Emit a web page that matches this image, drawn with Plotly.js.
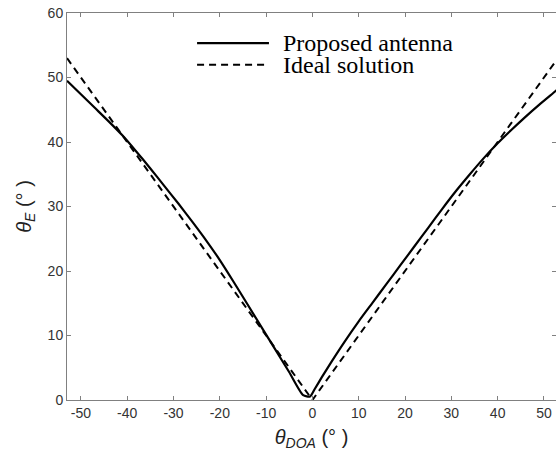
<!DOCTYPE html>
<html>
<head>
<meta charset="utf-8">
<script src="https://cdn.plot.ly/plotly-3.0.1.min.js"></script>
<style>html,body{margin:0;padding:0;background:#fff;}#chart{width:556px;height:463px;}</style>
</head>
<body>
<div id="chart"></div>
<script>
// Proposed antenna
const proposedX = [-53,-50,-47,-44,-41,-38,-35,-32,-29,-26,-23,-20,-17,-14,-11,-8,-5,-2,-0.5,0.5,2,4,7,10,13,16,19,22,25,28,31,34,37,40,43,46,49,52,53];
const proposedY = [49.5,47.4,45.3,43.2,41.0,38.5,35.9,33.2,30.5,27.7,24.8,21.7,18.3,14.8,11.3,7.8,4.3,0.75,0.55,1.7,3.5,5.8,9.1,12.2,15.1,18.0,20.9,23.8,26.7,29.6,32.4,35.0,37.5,39.8,41.9,43.9,45.8,47.6,48.2];
// Ideal solution
const idealX = [-53,0,53];
const idealY = [53,0,53];
// ticks
const xTickVals = [-50,-40,-30,-20,-10,0,10,20,30,40,50];
const xTickText = ["-50","-40","-30","-20","-10","0","10","20","30","40","50"];
const yTickVals = [0,10,20,30,40,50,60];
const seriesNames = ["Proposed antenna","Ideal solution"];

const traces = [
  {x: proposedX, y: proposedY, mode: 'lines', name: seriesNames[0], line: {color: '#000', width: 2.2, shape: 'spline', smoothing: 0.6}, showlegend: false},
  {x: idealX, y: idealY, mode: 'lines', name: seriesNames[1], line: {color: '#000', width: 2, dash: '7px,5px'}, showlegend: false}
];

const axisCommon = {
  showgrid: false, zeroline: false, showline: true, linecolor: '#808080', linewidth: 1,
  ticks: 'inside', ticklen: 4, tickcolor: '#808080', mirror: 'ticks',
  tickfont: {family: 'Liberation Sans, Arial, sans-serif', size: 14, color: '#333'}
};

const layout = {
  width: 556, height: 463,
  margin: {l: 67, r: 0, t: 13, b: 63},
  paper_bgcolor: '#fff', plot_bgcolor: '#fff',
  showlegend: false,
  xaxis: Object.assign({}, axisCommon, {
    range: [-53, 52.6], tickmode: 'array', tickvals: xTickVals, ticktext: xTickText,
    title: {text: '<i>θ</i><sub><i>DOA</i></sub> (° )', font: {family: 'Liberation Sans, Arial, sans-serif', size: 20, color: '#222'}, standoff: 10}
  }),
  yaxis: Object.assign({}, axisCommon, {
    range: [0, 60], tickmode: 'array', tickvals: yTickVals,
    title: {text: '<i>θ</i><sub><i>E</i></sub> (° )', font: {family: 'Liberation Sans, Arial, sans-serif', size: 20, color: '#222'}, standoff: 10}
  }),
  shapes: [
    {type: 'line', xref: 'paper', yref: 'paper', x0: 0.266, x1: 0.413, y0: 0.922, y1: 0.922, line: {color: '#000', width: 2.2}},
    {type: 'line', xref: 'paper', yref: 'paper', x0: 0.266, x1: 0.413, y0: 0.866, y1: 0.866, line: {color: '#000', width: 2, dash: '7px,5px'}}
  ],
  annotations: [
    {xref: 'paper', yref: 'paper', x: 0.438, y: 0.922, xanchor: 'left', yanchor: 'middle', showarrow: false, text: seriesNames[0], font: {family: 'Liberation Serif, Times New Roman, serif', size: 24, color: '#000'}},
    {xref: 'paper', yref: 'paper', x: 0.438, y: 0.866, xanchor: 'left', yanchor: 'middle', showarrow: false, text: seriesNames[1], font: {family: 'Liberation Serif, Times New Roman, serif', size: 24, color: '#000'}}
  ]
};

Plotly.newPlot('chart', traces, layout, {staticPlot: true, displayModeBar: false});
</script>
</body>
</html>
